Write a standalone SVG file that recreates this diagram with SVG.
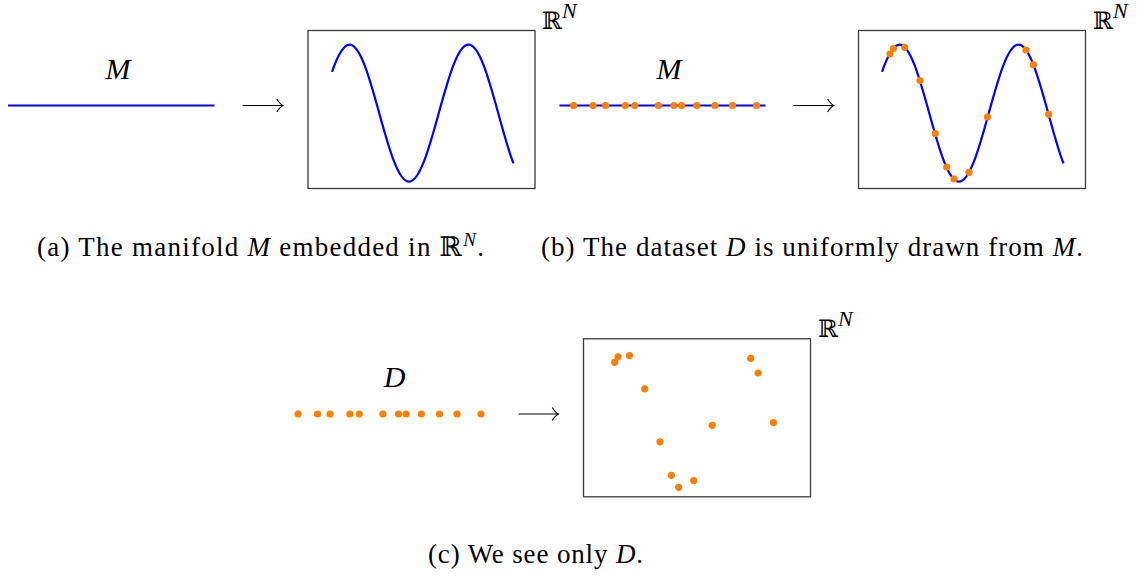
<svg xmlns="http://www.w3.org/2000/svg" xmlns:xlink="http://www.w3.org/1999/xlink" width="1148" height="577" viewBox="0 0 1148 577">
  <style>
    .curve { fill: none; stroke: #0000ff; stroke-width: 2.2; stroke-linecap: butt; }
    .box { fill: none; stroke: #3a3a3a; stroke-width: 1.3; }
    .dot { fill: #ff8000; }
    .arrow { fill: none; stroke: #000; stroke-width: 1.1; marker-end: url(#ah); }
    .serif { font-family: 'Liberation Serif', 'Times New Roman', serif; fill: #000; }
    .lab { font-style: italic; font-size: 30px; text-anchor: middle; }
    .cap { font-size: 27px; }
    .it { font-style: italic; }
    .bb { font-family: 'DejaVu Serif', serif; font-size: 24px; fill: #000; }
    .bbc { font-family: 'DejaVu Serif', serif; }
    .sup { font-style: italic; font-size: 22px; }
  </style>
  <defs>
    <marker id="ah" markerUnits="userSpaceOnUse" viewBox="0 0 10 16" markerWidth="10" markerHeight="16" refX="8" refY="8" orient="auto">
      <path d="M1.8,1.5 Q5,6.6 8,8 Q5,9.4 1.8,14.5" fill="none" stroke="#000" stroke-width="1.1"/>
    </marker>
    <path id="sine" d="M-17.5,71.94 C-11.67,55.1 -5.83,44.7 0,44.7 C10.71,44.7 19.81,77.23 29.75,113.2 C39.69,149.17 48.79,181.7 59.5,181.7 C70.21,181.7 79.31,149.17 89.25,113.2 C99.19,77.23 108.29,44.7 119,44.7 C129.71,44.7 138.81,77.23 148.75,113.2 C153.97,132.07 158.9,150.81 164,163.4"/>
  </defs>
  <rect width="1148" height="577" fill="#ffffff"/>

  <!-- Panel (a) -->
  <g id="a-manifold">
    <line class="curve" x1="8" y1="105.5" x2="214.5" y2="105.5"/>
    <text class="serif lab" x="118" y="79">M</text>
  </g>
  <g id="a-embedding">
    <rect class="box" x="308" y="30.5" width="227" height="158"/>
    <use xlink:href="#sine" href="#sine" class="curve" x="349.5" y="0"/>
    <text class="bb" x="542" y="29">ℝ</text>
    <text class="serif sup" x="562" y="18">N</text>
  </g>

  <!-- Panel (b) -->
  <g id="b-manifold">
    <line class="curve" x1="559.5" y1="105.5" x2="765.5" y2="105.5"/>
    <text class="serif lab" x="669" y="79">M</text>
    <g>
      <circle class="dot" cx="573.6" cy="105.5" r="3.6"/>
      <circle class="dot" cx="593" cy="105.5" r="3.6"/>
      <circle class="dot" cx="605.5" cy="105.5" r="3.6"/>
      <circle class="dot" cx="625.3" cy="105.5" r="3.6"/>
      <circle class="dot" cx="634.8" cy="105.5" r="3.6"/>
      <circle class="dot" cx="658.4" cy="105.5" r="3.6"/>
      <circle class="dot" cx="674" cy="105.5" r="3.6"/>
      <circle class="dot" cx="681.6" cy="105.5" r="3.6"/>
      <circle class="dot" cx="696.8" cy="105.5" r="3.6"/>
      <circle class="dot" cx="715" cy="105.5" r="3.6"/>
      <circle class="dot" cx="732.5" cy="105.5" r="3.6"/>
      <circle class="dot" cx="756.5" cy="105.5" r="3.6"/>
    </g>
  </g>
  <g id="b-embedding">
    <rect class="box" x="858.5" y="30.5" width="227" height="158"/>
    <use xlink:href="#sine" href="#sine" class="curve" x="899.5" y="0"/>
    <g>
      <circle class="dot" cx="890" cy="54" r="3.6"/>
      <circle class="dot" cx="893.3" cy="48.5" r="3.6"/>
      <circle class="dot" cx="904.7" cy="47.3" r="3.6"/>
      <circle class="dot" cx="920" cy="80.5" r="3.6"/>
      <circle class="dot" cx="935.3" cy="133.5" r="3.6"/>
      <circle class="dot" cx="946.7" cy="167" r="3.6"/>
      <circle class="dot" cx="954" cy="179" r="3.6"/>
      <circle class="dot" cx="969" cy="172.3" r="3.6"/>
      <circle class="dot" cx="987.5" cy="117" r="3.6"/>
      <circle class="dot" cx="1026" cy="50" r="3.6"/>
      <circle class="dot" cx="1033.3" cy="64.7" r="3.6"/>
      <circle class="dot" cx="1048.7" cy="114.3" r="3.6"/>
    </g>
    <text class="bb" x="1093" y="29">ℝ</text>
    <text class="serif sup" x="1113" y="18">N</text>
  </g>

  <!-- Panel (c) -->
  <g id="c-data">
    <text class="serif lab" x="394.5" y="387">D</text>
    <g>
      <circle class="dot" cx="298.1" cy="414" r="3.6"/>
      <circle class="dot" cx="317.5" cy="414" r="3.6"/>
      <circle class="dot" cx="330" cy="414" r="3.6"/>
      <circle class="dot" cx="349.8" cy="414" r="3.6"/>
      <circle class="dot" cx="359.3" cy="414" r="3.6"/>
      <circle class="dot" cx="382.9" cy="414" r="3.6"/>
      <circle class="dot" cx="398.5" cy="414" r="3.6"/>
      <circle class="dot" cx="406.1" cy="414" r="3.6"/>
      <circle class="dot" cx="421.3" cy="414" r="3.6"/>
      <circle class="dot" cx="439.5" cy="414" r="3.6"/>
      <circle class="dot" cx="457" cy="414" r="3.6"/>
      <circle class="dot" cx="481" cy="414" r="3.6"/>
    </g>
  </g>
  <g id="c-embedding">
    <rect class="box" x="583.5" y="338.8" width="227" height="158"/>
    <g>
      <circle class="dot" cx="614.7" cy="362.3" r="3.6"/>
      <circle class="dot" cx="618" cy="356.8" r="3.6"/>
      <circle class="dot" cx="629.4" cy="355.6" r="3.6"/>
      <circle class="dot" cx="644.7" cy="388.8" r="3.6"/>
      <circle class="dot" cx="660" cy="441.8" r="3.6"/>
      <circle class="dot" cx="671.4" cy="475.3" r="3.6"/>
      <circle class="dot" cx="678.7" cy="487.3" r="3.6"/>
      <circle class="dot" cx="693.7" cy="480.6" r="3.6"/>
      <circle class="dot" cx="712.2" cy="425.3" r="3.6"/>
      <circle class="dot" cx="750.7" cy="358.3" r="3.6"/>
      <circle class="dot" cx="758" cy="373" r="3.6"/>
      <circle class="dot" cx="773.4" cy="422.6" r="3.6"/>
    </g>
    <text class="bb" x="818" y="337">ℝ</text>
    <text class="serif sup" x="838" y="326">N</text>
  </g>

  <!-- Connectors: "maps to" arrows -->
  <g id="connectors">
    <path class="arrow" d="M242.5,105.5 H283"/>
    <path class="arrow" d="M793.3,105.5 H833.8"/>
    <path class="arrow" d="M518.6,414 H558.4"/>
  </g>

  <!-- Captions -->
  <g id="captions">
    <text class="serif cap" x="37" y="256" textLength="447" lengthAdjust="spacing">(a) The manifold <tspan class="it">M</tspan> embedded in <tspan class="bbc">ℝ</tspan><tspan class="it" font-size="19" dy="-10">N</tspan><tspan dy="10">.</tspan></text>
    <text class="serif cap" x="541" y="256" textLength="542" lengthAdjust="spacing">(b) The dataset <tspan class="it">D</tspan> is uniformly drawn from <tspan class="it">M</tspan>.</text>
    <text class="serif cap" x="428" y="563" textLength="215" lengthAdjust="spacing">(c) We see only <tspan class="it">D</tspan>.</text>
  </g>
</svg>
